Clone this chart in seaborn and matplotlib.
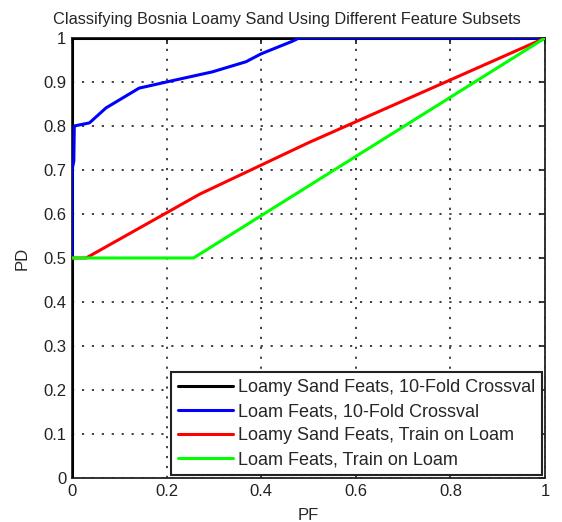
import matplotlib
matplotlib.use("Agg")
import matplotlib.pyplot as plt
import seaborn as sns
import pandas as pd

sns.set_theme(style="white")
plt.rcParams['font.family'] = ['Liberation Sans', 'DejaVu Sans']

series_names = [
    "Loamy Sand Feats, 10-Fold Crossval",
    "Loam Feats, 10-Fold Crossval",
    "Loamy Sand Feats, Train on Loam",
    "Loam Feats, Train on Loam",
]
colors = ["#000000", "#0000ff", "#ff0000", "#00ff00"]

pf_black = [0.0, 0.0, 1.0]
pd_black = [0.0, 1.0, 1.0]

pf_blue = [0.0, 0.0, 0.004, 0.005, 0.037, 0.072, 0.142, 0.163, 0.2, 0.297, 0.368, 0.4, 0.467, 0.48, 1.0]
pd_blue = [0.5, 0.7, 0.72, 0.8, 0.807, 0.841, 0.886, 0.891, 0.9, 0.923, 0.946, 0.964, 0.993, 1.0, 1.0]

pf_red = [0.0, 0.03, 0.27, 0.5, 1.0]
pd_red = [0.5, 0.5, 0.645, 0.762, 1.0]

pf_green = [0.0, 0.257, 1.0]
pd_green = [0.5, 0.5, 1.0]

frames = []
for name, xs, ys in zip(series_names,
                        [pf_black, pf_blue, pf_red, pf_green],
                        [pd_black, pd_blue, pd_red, pd_green]):
    frames.append(pd.DataFrame({"PF": xs, "PD": ys, "series": name,
                                "order": range(len(xs))}))
df = pd.concat(frames, ignore_index=True)

fig = plt.figure(figsize=(5.62, 5.22), dpi=100)
ax = fig.add_axes([0.128, 0.0843, 0.842, 0.843])

sns.lineplot(data=df, x="PF", y="PD", hue="series", hue_order=series_names,
             palette=colors, sort=False, estimator=None, units="series",
             linewidth=2.2, ax=ax, legend=True, zorder=3)

ax.set_xlim(0, 1)
ax.set_ylim(0, 1)
ax.set_xticks([0, 0.2, 0.4, 0.6, 0.8, 1])
ax.set_xticklabels(["0", "0.2", "0.4", "0.6", "0.8", "1"])
ax.set_yticks([i / 10 for i in range(11)])
ax.set_yticklabels(["0", "0.1", "0.2", "0.3", "0.4", "0.5", "0.6", "0.7", "0.8", "0.9", "1"])
ax.grid(True, color="#333333", linestyle=(0, (1.2, 4.3)), linewidth=1.3)
ax.tick_params(direction="in", length=4, top=True, right=True, labelsize=12,
               colors="#222222", pad=4)
for s in ax.spines.values():
    s.set_color("#222222")
    s.set_linewidth(1.3)
ax.set_xlabel("PF", fontsize=12, labelpad=7)
ax.set_ylabel("PD", fontsize=12, labelpad=10)
ax.set_title("Classifying Bosnia Loamy Sand Using Different Feature Subsets",
             fontsize=11.8, pad=10, x=0.455)

leg = ax.legend(loc="lower right", fontsize=13, frameon=True, fancybox=False,
                edgecolor="#222222", handlelength=3.0, borderaxespad=0.15,
                labelspacing=0.38, handletextpad=0.3, borderpad=0.4)
leg.get_frame().set_linewidth(1.5)
leg.get_frame().set_alpha(1)

fig.savefig("out.png", dpi=100)
